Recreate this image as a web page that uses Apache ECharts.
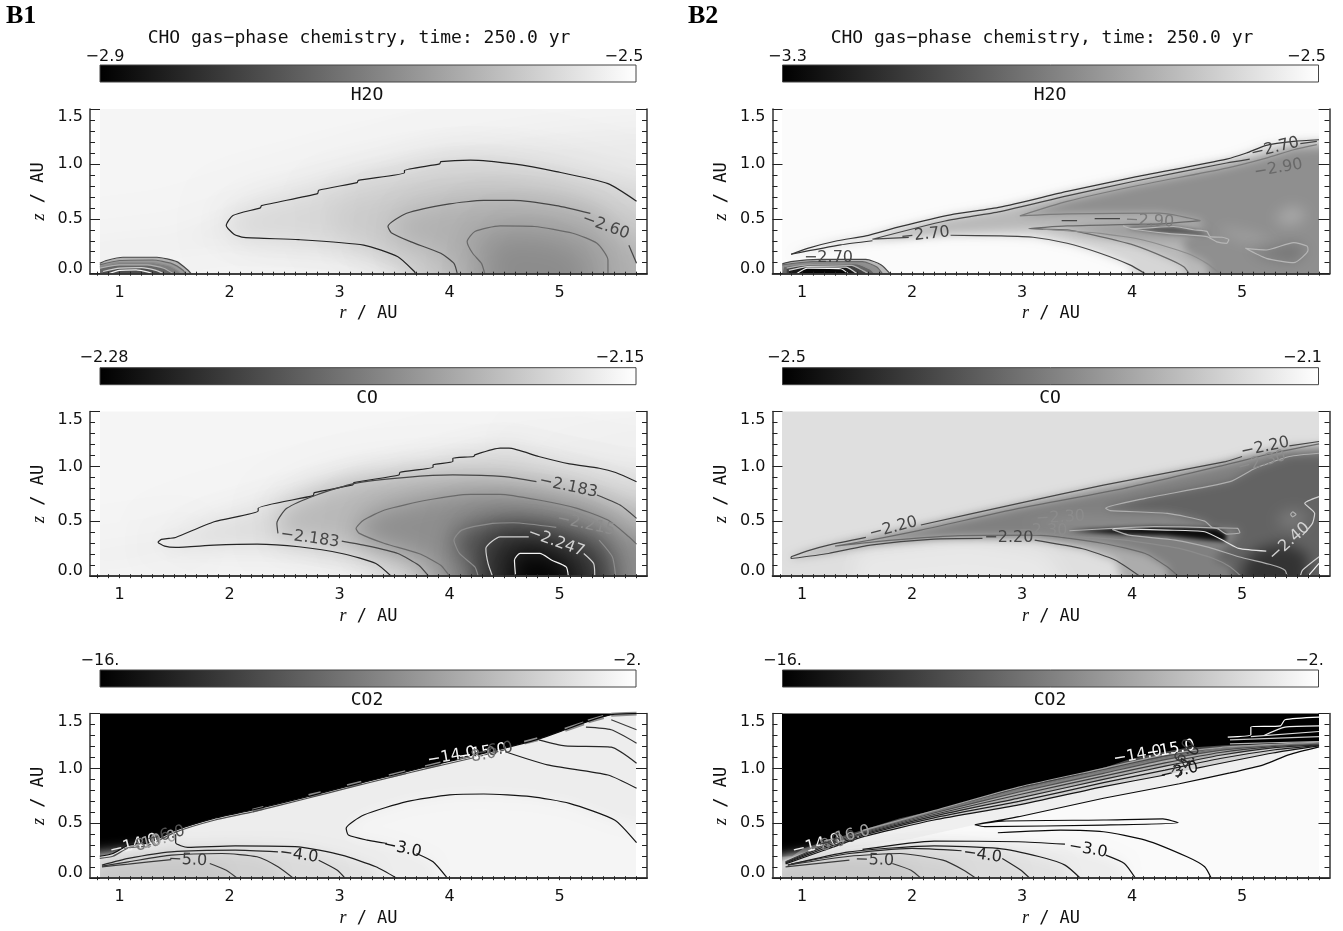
<!DOCTYPE html>
<html>
<head>
<meta charset="utf-8">
<title>CHO gas-phase chemistry</title>
<style>html,body{margin:0;background:#fff}#chart{width:1343px;height:931px}</style>
<script src="https://cdn.jsdelivr.net/npm/echarts@6/dist/echarts.min.js"></script>
</head>
<body>
<div id="chart"></div>
<script>
// axis values
const rLabels = [1, 2, 3, 4, 5];
const rTicks = [0.8,0.9,1,1.1,1.2,1.3,1.4,1.5,1.6,1.7,1.8,1.9,2,2.1,2.2,2.3,2.4,2.5,2.6,2.7,2.8,2.9,3,3.1,3.2,3.3,3.4,3.5,3.6,3.7,3.8,3.9,4,4.1,4.2,4.3,4.4,4.5,4.6,4.7,4.8,4.9,5,5.1,5.2,5.3,5.4,5.5,5.6,5.7];
const species = ['H2O', 'CO', 'CO2'];
const barRangeB1 = [[-2.9, -2.5], [-2.28, -2.15], [-16, -2]];
const barRangeB2 = [[-3.3, -2.5], [-2.5, -2.1], [-16, -2]];
const barTextB1 = [['−2.9', '−2.5'], ['−2.28', '−2.15'], ['−16.', '−2.']];
const barTextB2 = [['−3.3', '−2.5'], ['−2.5', '−2.1'], ['−16.', '−2.']];
const wholeField = [[0.7, -0.1], [5.9, -0.1], [5.9, 1.6], [0.7, 1.6]];

// contours are [level, points], null marks a break where the label sits
const h2oB1Lines = [
  [-2.55, [[5.7,.66],[5.44,.82],[4.97,.93],[4.58,1],[4.19,1.035],[3.92,1.02],[3.91,1],[3.59,.94],[3.59,.92],[3.17,.85],[3.16,.83],[2.81,.76],[2.8,.73],[2.29,.62],[2.28,.6],[2.03,.53],[1.97,.44],[2.04,.36],[2.13,.33],[2.63,.31],[3.22,.26],[3.53,.155],[3.68,.02],[3.69,0]]],
  [-2.6, [[5.7,.095],[5.63,.26],null,[5.28,.55],[4.97,.62],[4.58,.667],[4.31,.667],[4,.636],[3.61,.55],[3.44,.43],[3.47,.374],[3.65,.29],[3.92,.186],[4.04,.094],[4.07,0]]],
  [-2.65, [[5.44,0],[5.44,.125],[5.34,.277],[5.12,.368],[4.77,.43],[4.46,.435],[4.23,.384],[4.16,.292],[4.21,.186],[4.29,.094],[4.32,0]]],
  [-2.6, [[.82,.095],[.88,.12],[1.03,.15],[1.34,.15],[1.52,.11],[1.62,.034],[1.65,0]]],
  [-2.65, [[.82,.08],[1,.12],[1.3,.125],[1.48,.09],[1.58,.03],[1.6,0]]],
  [-2.7, [[.82,.065],[1,.1],[1.3,.1],[1.45,.07],[1.54,.02],[1.55,0]]],
  [-2.75, [[.82,.05],[1,.08],[1.25,.08],[1.4,.05],[1.49,0]]],
  [-2.8, [[.85,.02],[1,.05],[1.2,.055],[1.33,.03],[1.4,0]]],
  [-2.85, [[.9,0],[1,.03],[1.15,.035],[1.26,.015],[1.3,0]]]
];
const h2oB1Labels = [[5.42,.43,'−2.60',-20,-2.6]];
const h2oB1Soft = [
  [-2.53, [[.82,.17],[1.5,.33],[2.1,.53],[3,.8],[3.8,1.03],[4.3,1.13],[5,1.23],[5.7,1.33],[5.7,0],[3.9,0],[3.4,.2],[2.8,.3],[2,.32],[1.7,.28],[1,.16],[.82,.12]]],
  [-2.56, h2oB1Lines[0][1].concat([[5.7,0]])],
  [-2.58, [[5.7,.3],[5.55,.55],[5,.75],[4.4,.84],[3.8,.8],[3,.62],[2.9,.5],[3,.4],[3.3,.28],[3.7,.12],[3.85,0],[5.7,0]]],
  [-2.62, h2oB1Lines[1][1].filter(Boolean).concat([[5.7,0]])],
  [-2.65, h2oB1Lines[2][1]],
  [-2.68, [[5.2,0],[5.2,.15],[4.9,.27],[4.5,.3],[4.35,.2],[4.4,.08],[4.45,0]]]
];
const h2oB1Core = [
  [-2.62, h2oB1Lines[3][1].concat([[.82,0]])],
  [-2.66, h2oB1Lines[4][1].concat([[.82,0]])],
  [-2.7, h2oB1Lines[5][1].concat([[.82,0]])],
  [-2.74, h2oB1Lines[6][1].concat([[.82,0]])],
  [-2.78, h2oB1Lines[7][1].concat([[.85,0]])]
];

const h2oB2Lines = [
  [-2.65, [[.9,.177],[1.05,.231],[1.32,.3],[1.58,.344],[1.89,.429],[2.35,.536],[2.8,.606],[3.41,.749],[4.01,.877],[4.86,1.044],[5.04,1.099],[5.22,1.169],[5.47,1.205],[5.7,1.22]]],
  [-2.65, [[.9,.177],[1.35,.262],[1.64,.3]]],
  [-2.7, [[5.68,1.205],[5.53,1.184],null,[5.07,1.044],[4.86,1.008],[4.01,.84],[3.41,.709],[2.8,.566],[2.3,.48],[1.64,.314],[1.97,.33],null,[2.35,.35],[2.8,.344],[3.1,.332],[3.41,.277],[3.71,.186],[3.98,.08],[4.12,0]]],
  [-2.8, [[4.62,.484],[4.25,.454],[3.89,.447],[3.41,.435],[3.06,.41],[3.41,.399],[3.71,.338],[4.01,.262],[4.32,.14],[4.47,.064],[4.52,0]]],
  [-2.9, [[3.19,.405],[3.71,.368],[4.1,.307],[4.5,.186],[4.68,.094],[4.8,0]]],
  [-2.85, [[5.68,1.175],[5.47,1.129],[5.22,1.053],[4.86,.962],[4.01,.794],[3.41,.658],[2.98,.527],[3.41,.545],[4.25,.551],[4.62,.484]]],
  [-2.7, [[3.36,.484],[3.5,.484]]],
  [-2.7, [[3.66,.502],[3.89,.502]]],
  [-3.02, [[3.92,.435],[4,.41],[4.38,.43],[4.56,.4],[4.68,.385],[4.71,.338],[4.82,.332],[4.88,.31],[4.86,.277],[4.77,.29],[4.68,.338],[4.32,.368],[4.01,.405],[3.92,.435]]],
  [-3.02, [[5.03,.231],[5.22,.216],[5.47,.283],[5.59,.252],[5.6,.216],[5.47,.1],[5.22,.14],[5.03,.231]]],
  [-2.7, [[.82,.09],[.9,.11],[1.15,.13],[1.58,.13],[1.72,.08],[1.8,0]]],
  [-2.8, [[.82,.08],[1.1,.11],[1.55,.11],[1.68,.06],[1.73,0]]],
  [-2.9, [[.84,.065],[1.1,.095],[1.5,.09],[1.62,.04],[1.66,0]]],
  [-3, [[.86,.05],[1.05,.08],[1.45,.075],[1.55,.03],[1.6,0]]],
  [-3.1, [[.88,.03],[1.05,.065],[1.4,.06],[1.5,0]]],
  [-3.2, [[.95,0],[1.05,.05],[1.35,.045],[1.42,0]]]
];
const h2oB2Labels = [
  [2.12,.355,'−2.70',6,-2.7], [5.3,1.144,'−2.70',14,-2.7], [1.24,.14,'−2.70',0,-2.7],
  [4.16,.478,'−2.90',-3,-2.85], [5.33,.96,'−2.90',10,-2.8]
];
const h2oB2Wedge = [
  [-2.63, h2oB2Lines[0][1].concat([[5.7,0],[4.12,0],[3.98,.08],[3.71,.186],[3.41,.277],[3.1,.332],[2.8,.344],[2.35,.35],[1.97,.33],[1.64,.3],[1.35,.262]])],
  [-2.72, [[1.64,.314],[2.3,.48],[2.8,.566],[3.41,.709],[4.01,.84],[4.86,1.008],[5.07,1.044],[5.53,1.184],[5.7,1.205],[5.7,0],[4.52,0],[4.47,.064],[4.32,.14],[4.01,.262],[3.71,.338],[3.41,.399],[3.06,.41],[2.4,.375]]],
  [-2.85, [[2.98,.527],[3.41,.658],[4.01,.794],[4.86,.962],[5.22,1.053],[5.47,1.129],[5.7,1.175],[5.7,0],[4.8,0],[4.68,.094],[4.5,.186],[4.45,.3],[4.65,.42],[4.62,.484],[4.25,.551],[3.41,.545]]]
];
const h2oB2Soft = [
  [-2.87, [[3.2,.405],[3.9,.44],[4.25,.45],[4.62,.43],[4.8,.34],[4.4,.33],[3.7,.368]]],
  [-2.77, [[5.3,.52],[5.45,.62],[5.6,.55],[5.5,.45],[5.35,.45]]],
  [-2.78, [[4.8,.42],[5.1,.36],[5.3,.28],[5.1,.28],[4.85,.36]]],
  [-2.93, [[5.05,.23],[5.22,.22],[5.47,.28],[5.6,.22],[5.47,.1],[5.22,.14]]]
];
const h2oB2Sliver = [
  [-3.04, [[3.95,.43],[4.38,.425],[4.6,.39],[4.7,.35],[4.3,.37],[4,.41]]]
];
const h2oB2Core = [
  [-2.72, h2oB2Lines[10][1].concat([[.82,0]])],
  [-2.85, h2oB2Lines[11][1].concat([[.82,0]])],
  [-2.98, h2oB2Lines[12][1].concat([[.82,0]])],
  [-3.1, h2oB2Lines[13][1].concat([[.86,0]])],
  [-3.22, h2oB2Lines[14][1].concat([[.88,0]])],
  [-3.28, h2oB2Lines[15][1]]
];

const coB1Lines = [
  [-2.167, [[5.7,.86],[5.51,.944],[5.36,.983],[5.09,1.023],[4.81,1.09],[4.54,1.166],[4.46,1.166],[4.23,1.105],[4.22,1.09],[4.03,1.075],[4.03,1.044],[3.85,1.014],[3.85,.992],[3.55,.947],[3.54,.922],[3.13,.852],[3.12,.831],[2.77,.761],[2.76,.734],[2.26,.618],[2.26,.594],[1.86,.496],[1.51,.353],[1.45,.344],[1.38,.335],[1.35,.31],[1.41,.274],[1.51,.262],[1.86,.283],[2.25,.292],[2.63,.268],[3.02,.207],[3.33,.116],[3.47,0]]],
  [-2.183, [[5.7,.527],[5.55,.648],[5.34,.74],null,[4.79,.861],[4.5,.907],[4.03,.922],[3.61,.9],[3.14,.846],[2.79,.74],[2.52,.618],[2.43,.481],[2.44,.39],null,[3.02,.32],[3.22,.283],[3.53,.207],[3.72,.1],[3.81,0]]],
  [-2.199, [[5.7,.292],[5.63,.359],[5.44,.511],[5.16,.618],[4.81,.694],[4.46,.746],[4.19,.746],[3.8,.694],[3.41,.603],[3.22,.511],[3.15,.435],[3.18,.39],[3.41,.298],[3.72,.207],[3.92,.1],[4,0]]],
  [-2.215, [[5.51,0],[5.48,.177],[5.36,.329],null,[4.97,.444],[4.58,.487],[4.39,.481],[4.11,.42],[4.04,.329],[4.09,.207],[4.23,.085],[4.26,0]]],
  [-2.247, [[5.32,0],[5.31,.116],[5.22,.207],null,[4.72,.359],[4.46,.359],[4.33,.253],[4.35,.116],[4.39,0]]],
  [-2.263, [[5.08,0],[5.06,.085],[4.93,.146],[4.82,.207],[4.64,.207],[4.59,.146],[4.6,0]]]
];
const coB1Labels = [
  [5.08,.815,'−2.183',-12,-2.183], [2.73,.345,'−2.183',-8,-2.183],
  [5.24,.47,'−2.215',-12,-2.215], [4.97,.31,'−2.247',-20,-2.247]
];
const coB1Soft = [
  [-2.158, [[.82,.1],[.82,.16],[1.35,.33],[1.6,.4],[1.7,.28],[1,.14]]],
  [-2.157, [[4.5,1.2],[5.7,1.35],[5.7,.8]]],
  [-2.167, coB1Lines[0][1].concat([[5.7,0]])],
  [-2.185, coB1Lines[1][1].filter(Boolean).concat([[5.7,0]])],
  [-2.207, coB1Lines[2][1].concat([[5.7,0]])],
  [-2.237, coB1Lines[3][1].filter(Boolean)],
  [-2.258, coB1Lines[4][1].filter(Boolean)],
  [-2.278, coB1Lines[5][1]]
];

const coB2Lines = [
  [-2.2, [[.9,.177],[1.05,.231],[1.24,.283],[1.58,.353],null,[2.08,.466],[2.97,.664],[3.74,.83],[4.85,1.044],[5,1.09],null,[5.43,1.187],[5.7,1.227]]],
  [-2.2, [[.9,.177],[.9,.161],[1.24,.207],[1.62,.283],[2.2,.338],[2.64,.344],null,[3.115,.329],[3.55,.25],[3.85,.146],[4.07,0]]],
  [-2.25, [[5.7,1.205],[5.28,1.12],[4.85,1.014],[3.93,.8],[2.97,.618],[2.08,.42],[1.62,.329],[1.3,.274],[1.82,.329],[2.39,.368],[3.12,.374],[3.74,.298],[4.12,.207],[4.32,.085],[4.42,0]]],
  [-2.35, [[5.7,1.12],[5.43,1.09],[5.12,.983],[4.89,.861],[4.12,.709],[3.76,.618],[3.8,.597],[4.32,.572],[4.66,.502],[4.73,.444],[4.96,.435],[4.98,.396],[4.86,.383],[4.77,.435],[4.2,.451],[3.82,.435],[3.43,.414]]],
  [-2.3, [[3.35,.365],[3.93,.329],[4.43,.253],[4.74,.161],[4.89,.085],[4.99,0]]],
  [-2.35, [[3.82,.426],[3.97,.374],[4.39,.329],[4.7,.262],[4.97,.177],[5.28,.1],[5.39,.055],[5.41,0]]],
  [-2.42, [[3.83,.432],[4.32,.42],[4.66,.405],[4.85,.314],[4.97,.253],[5.22,.228]]],
  [-2.4, [[5.7,.725],[5.57,.664],[5.66,.572],[5.64,.481],[5.55,.374]]],
  [-2.4, [[5.53,0],[5.55,.055],[5.7,.177]]],
  [-2.45, [[5.7,.116],[5.6,0]]],
  [-2.35, [[5.44,.563],[5.46,.585],[5.49,.563],[5.46,.541],[5.44,.563]]]
];
const coB2Labels = [
  [1.83,.44,'−2.20',15,-2.2], [2.88,.353,'−2.20',0,-2.2], [5.21,1.175,'−2.20',12,-2.2],
  [3.35,.533,'−2.30',3,-2.3], [3.19,.414,'−2.30',0,-2.3], [5.18,1.04,'−2.30',15,-2.3],
  [5.43,.313,'−2.40',42,-2.4]
];
const coB2Light = [
  [-2.135, [[1.5,0],[1.5,.2],[2.5,.3],[3.2,.2],[3.6,0]]]
];
const coB2Wedge = [
  [-2.23, [[.9,.177],[1.05,.231],[1.24,.283],[1.58,.353],[2.08,.466],[2.97,.664],[3.74,.83],[4.85,1.044],[5,1.09],[5.43,1.187],[5.7,1.227],[5.7,0],[4.07,0],[3.85,.146],[3.55,.25],[3.115,.329],[2.64,.344],[2.2,.338],[1.62,.283],[1.24,.207],[.9,.161]]],
  [-2.3, coB2Lines[2][1].concat([[5.7,0]])],
  [-2.345, [[3.76,.618],[4.12,.709],[4.89,.861],[5.12,.983],[5.43,1.09],[5.7,1.12],[5.7,0],[4.99,0],[4.89,.085],[4.74,.161],[4.9,.3],[4.98,.396],[4.96,.435],[4.73,.444],[4.66,.502],[4.32,.572],[3.8,.597]]]
];
const coB2Soft = [
  [-2.27, [[3,.47],[3.4,.52],[4.3,.52],[4.6,.47],[4.3,.46],[3.4,.45]]],
  [-2.31, [[5.3,.5],[5.4,.6],[5.55,.6],[5.6,.5],[5.45,.42]]],
  [-2.42, [[4.99,0],[5,.1],[5.15,.25],[5.4,.3],[5.6,.2],[5.6,0]]]
];
const coB2Sliver = [
  [-2.48, [[3.43,.414],[3.82,.435],[4.2,.451],[4.77,.435],[4.86,.383],[4.85,.314],[4.66,.33],[4.3,.37],[3.9,.38]]]
];

const boundaryCo2B1 = [[.82,.2],[.94,.225],[1.08,.3],[1.25,.317],[1.51,.438],[1.86,.545],[2.21,.621],[2.71,.743],[3.06,.834],[3.49,.94],[3.8,1.017],[4.19,1.108],[4.5,1.184],[4.81,1.266],[5.05,1.352],[5.26,1.428],[5.47,1.489],[5.7,1.5]];
const co2B1Lines = [
  [-2.5, boundaryCo2B1],
  [-6, [[.82,.18],[.94,.2],[1.08,.275],[1.25,.295],[1.51,.42],[1.86,.528],[2.21,.604],[2.71,.728],[3.06,.818],[3.49,.925],[3.8,1],[4.19,1.09],[4.5,1.168]]],
  [-3, [[5.7,.323],[5.5,.53],[5.09,.682],[4.74,.743],[4.31,.767],[4,.758],[3.61,.697],[3.22,.575],[3.06,.454],[3.08,.393],[3.25,.347],[3.43,.317],null,[3.7,.225],[3.85,.149],[3.98,0]]],
  [-3.5, [[4.5,1.154],[4.89,1.032],[5.44,.94],[5.7,.819]]],
  [-4, [[4.81,1.26],[5.05,1.205],[5.47,1.193],[5.7,1.047]]],
  [-4.5, [[5.24,1.376],[5.47,1.352],[5.7,1.23]]],
  [-5, [[5.47,1.443],[5.7,1.352]]],
  [-3.5, [[1.51,.4],[1.51,.323],[1.62,.28],[2.05,.295],[2.63,.286],[3.02,.21],[3.33,.104],[3.52,0]]],
  [-4, [[.84,.119],[1.08,.18],[1.47,.24],[2.05,.256],[2.44,.24],null,[2.81,.164],[2.98,.073],[3.05,0]]],
  [-4.5, [[.84,.11],[1.08,.149],[1.47,.21],[1.93,.225],[2.25,.195],[2.44,.104],[2.58,0]]],
  [-5, [[.84,.104],[1.08,.128],[1.47,.17],null,[1.82,.134],[1.97,.073],[2.07,0]]]
];
const co2B1Steps = [[[2.21,.615],[2.31,.64]],[[2.72,.75],[2.83,.775]],[[3.07,.838],[3.2,.87]],[[3.45,.93],[3.6,.965]],[[3.78,1.012],[3.92,1.045]],[[4.68,1.235],[4.8,1.265]],[[5.05,1.352],[5.22,1.41]],[[5.26,1.428],[5.4,1.468]],[[5.47,1.489],[5.7,1.5]]];
const co2B1Labels = [
  [3.57,.27,'−3.0',-12,-3], [2.63,.21,'−4.0',-8,-4], [1.62,.164,'−5.0',-3,-5],
  [1.13,.3,'−14.0',14,-14], [1.2,.3,'−8.0',14,-8], [1.3,.33,'−10.0',14,-10], [1.42,.39,'−6.0',14,-6],
  [4.02,1.11,'−14.0',10,-14], [4.3,1.14,'−15.0',10,-15], [4.4,1.16,'−6.0',10,-6], [4.25,1.11,'−8.0',10,-8]
];
const co2B1Under = [[-3, boundaryCo2B1.concat([[5.7,0],[.82,0]])]];
const co2B1Soft = [
  [-2.55, co2B1Lines[2][1].filter(Boolean).concat([[5.7,0]])],
  [-3.6, [[.82,.15],[1.2,.25]].concat(co2B1Lines[7][1].slice(1)).concat([[.82,0]])],
  [-4, co2B1Lines[8][1].filter(Boolean).concat([[.82,0]])],
  [-4.5, co2B1Lines[9][1].concat([[.82,0]])],
  [-5, co2B1Lines[10][1].filter(Boolean).concat([[.82,0]])]
];

const boundaryCo2B2 = [[.82,.195],[.91,.2],[1.01,.271],[1.2,.332],[1.55,.438],[1.89,.545],[2.22,.621],[2.72,.758],[3.08,.85],[3.49,.94],[3.78,1.017],[3.97,1.08],[4.24,1.14],[4.5,1.187],[4.85,1.21],[5.28,1.224],[5.7,1.224]];
const co2B2Lines = [
  [-2.5, [[5.7,1.196],[5.43,1.126],[5.2,1.035],[4.89,.959],[4.43,.86],[3.74,.728],[2.97,.56],[2.57,.487],[2.82,.52],[3.74,.53],[4.28,.54],[4.42,.505],[3.74,.484],[2.66,.47],[2.57,.487]]],
  [-2.5, [[2.78,.414],[3.35,.438],[3.74,.423],[4.12,.347],[4.5,.195],[4.66,.104],[4.72,0]]],
  [-3, [[.85,.13],[1.2,.255],[1.55,.377],[2.2,.53],[2.97,.667],[3.74,.834],[4.3,.94],null,[4.58,1],[5.28,1.14],[5.7,1.205]]],
  [-3.5, [[.85,.14],[1.2,.27],[1.55,.39],[2.2,.55],[2.97,.7],[3.74,.87],[4.3,.985],[4.8,1.09],[5.3,1.17],[5.7,1.21]]],
  [-4, [[.85,.145],[1.2,.285],[1.55,.4],[2.2,.565],[2.97,.73],[3.74,.9],[4.3,1.02],[4.8,1.12],[5.3,1.19],[5.7,1.215]]],
  [-5, [[.85,.15],[1.2,.3],[1.55,.41],[2.2,.58],[2.97,.76],[3.74,.93],[4.3,1.05],[4.8,1.145],[5.3,1.2],[5.7,1.22]]],
  [-6, [[1.55,.42],[2.2,.595],[2.97,.785],[3.74,.955],[4.3,1.08],[4.8,1.165],[5.3,1.21],[5.7,1.225]]],
  [-8, [[1.55,.43],[2.2,.605],[2.97,.81],[3.74,.98],[4.3,1.1],[4.8,1.18],[5.3,1.215],[5.7,1.23]]],
  [-10, [[1.55,.435],[2.2,.615],[2.97,.83],[3.74,1],[4.3,1.125],[4.8,1.19],[5.3,1.22],[5.7,1.24]]],
  [-15, [[4.87,1.285],[5.08,1.306],[5.08,1.376],[5.35,1.388],[5.39,1.443],[5.7,1.467]]],
  [-14, [[5.7,1.388],[5.39,1.376],[5.2,1.3]]],
  [-13, [[5.7,1.336],[5.08,1.29]]],
  [-12, [[5.7,1.29],[4.89,1.26]]],
  [-11, [[5.7,1.245],[4.89,1.224]]],
  [-3, [[1.55,.262],[2.2,.338],[2.97,.332],[3.39,.31],null,[3.76,.21],[3.93,.134],[4.03,0]]],
  [-3.5, [[.87,.12],[1.43,.24],[2.2,.295],[2.78,.271],[3.16,.195],[3.39,.119],[3.53,0]]],
  [-4, [[.9,.128],[1.43,.225],[2,.271],[2.45,.25],null,[2.82,.18],[2.99,.073],[3.07,0]]],
  [-4.5, [[.87,.119],[1.43,.2],[1.89,.225],[2.28,.164],[2.47,.073],[2.58,0]]],
  [-5, [[.85,.104],[1.43,.164],null,[1.82,.134],[1.99,.073],[2.08,0]]]
];
const co2B2Labels = [
  [3.6,.262,'−3.0',-10,-3], [2.64,.21,'−4.0',-8,-4], [1.66,.164,'−5.0',-2,-5], [4.43,.97,'−3.0',14,-3],
  [1.13,.3,'−14.0',14,-14], [1.22,.3,'−8.0',14,-8], [1.32,.34,'−6.0',14,-5], [1.4,.38,'−16.0',14,-10],
  [4.05,1.12,'−14.0',10,-14], [4.35,1.17,'−15.0',10,-15], [4.45,1.1,'−6.0',60,-5], [4.5,1.05,'−4.0',60,-4]
];
const co2B2Under = [
  [-12, boundaryCo2B2.concat([[5.7,0],[.82,0]])],
  [-9, [[1.55,.43],[2.2,.605],[2.97,.81],[3.74,.98],[4.3,1.1],[4.8,1.18],[5.3,1.215],[5.7,1.23],[5.7,0],[.82,0],[.82,.16]]],
  [-6.5, [[.85,.155],[1.2,.31],[1.55,.42],[2.2,.595],[2.97,.785],[3.74,.955],[4.3,1.08],[4.8,1.165],[5.3,1.21],[5.7,1.225],[5.7,0],[.82,0]]],
  [-4.5, [[.85,.148],[1.2,.29],[1.55,.4],[2.2,.565],[2.97,.73],[3.74,.9],[4.3,1.02],[4.8,1.12],[5.3,1.19],[5.7,1.215],[5.7,0],[.82,0]]],
  [-2.9, co2B2Lines[2][1].filter(Boolean).concat([[5.7,0],[.82,0]])],
  [-2.25, co2B2Lines[0][1].slice(0, 8).concat([[2,.36],[1.4,.27],[1,.16],[.82,.11],[.82,0],[5.7,0]])]
];
const co2B2Soft = [
  [-3, co2B2Lines[14][1].filter(Boolean).concat([[.82,0],[.82,.1]])],
  [-3.6, co2B2Lines[15][1].concat([[.82,0]])],
  [-4, co2B2Lines[16][1].filter(Boolean).concat([[.82,0]])],
  [-4.5, co2B2Lines[17][1].concat([[.82,0]])],
  [-5, co2B2Lines[18][1].filter(Boolean).concat([[.82,0]])]
];

// one entry per panel: [bar range, background level, lines, labels, layers as [fills, blur]]
const panels = [
  [[barRangeB1[0], -2.516, h2oB1Lines, h2oB1Labels, [[h2oB1Soft, 24], [h2oB1Core, 1]]],
   [barRangeB1[1], -2.155, coB1Lines, coB1Labels, [[coB1Soft, 22]]],
   [barRangeB1[2], -16, co2B1Lines, co2B1Labels, [[co2B1Under, 1], [co2B1Soft, 14]]]],
  [[barRangeB2[0], -2.512, h2oB2Lines, h2oB2Labels, [[h2oB2Wedge, 8], [h2oB2Soft, 14], [h2oB2Sliver, 4], [h2oB2Core, 1]]],
   [barRangeB2[1], -2.15, coB2Lines, coB2Labels, [[coB2Light, 20], [coB2Wedge, 8], [coB2Soft, 14], [coB2Sliver, 4]]],
   [barRangeB2[2], -16, co2B2Lines, co2B2Labels, [[co2B2Under, 1], [co2B2Soft, 14]]]]
];
const barText = [barTextB1, barTextB2];
const extraSteps = [[], [], co2B1Steps];

// layout
const frameLeft = [90, 772.5], imgLeft = [100, 782.5];
const frameTop = [109, 411.5, 713.5], frameH = 164.7;
const barTop = [65, 367.7, 670], barH = 17;
const barLabelX = [[105, 624], [104, 620], [100, 627]];
const nameY = [95, 398, 700.5], barLabelY = [57, 358, 660.5];
const SANS = 'DejaVu Sans', MONO = 'DejaVu Sans Mono';
const OFFSCREEN = 3000;

function grey(level, range) {
  const t = Math.min(1, Math.max(0, (level - range[0]) / (range[1] - range[0])));
  const g = Math.round(t * 255);
  return 'rgb(' + g + ',' + g + ',' + g + ')';
}
// contour lines go from black at the top of the scale to white at the bottom
function lineGrey(level, range) {
  const t = (level - range[0]) / (range[1] - range[0]);
  const g = Math.round(Math.min(255, Math.max(0, 255 * (1 - t) * 1.1)));
  return 'rgb(' + g + ',' + g + ',' + g + ')';
}
function segments(pts) {
  const out = [[]];
  pts.forEach(p => { if (p) out[out.length - 1].push(p); else out.push([]); });
  return out;
}
// soft fills are pushed past the image edge so the blur does not fade there
function pastEdge(q) {
  return [q[0] >= 5.69 ? 6.4 : q[0] <= 0.83 ? 0.2 : q[0], q[1] <= 0 ? -0.5 : q[1]];
}

const grids = [], xAxes = [], yAxes = [], series = [], titles = [];
titles.push({ text: 'B1', left: 6, top: 16, textVerticalAlign: 'middle', padding: 0, textStyle: { fontFamily: 'Liberation Serif', fontWeight: 'bold', fontSize: 26, color: '#000' } });
titles.push({ text: 'B2', left: 688, top: 16, textVerticalAlign: 'middle', padding: 0, textStyle: { fontFamily: 'Liberation Serif', fontWeight: 'bold', fontSize: 26, color: '#000' } });

function addText(text, x, y, font, size) {
  titles.push({ text, left: x, top: y, textAlign: 'center', textVerticalAlign: 'middle', padding: 0, textStyle: { fontFamily: font, fontSize: size, fontWeight: 'normal', color: '#111' } });
}

[0, 1].forEach(col => {
  addText('CHO gas−phase chemistry, time: 250.0 yr', col ? 1042 : 359, 38, MONO, 18);
  [0, 1, 2].forEach(row => {
    const [range, bg, lines, labels, layers] = panels[col][row];
    const imgW = 536, frameW = 557;

    // colour bar
    const gb = grids.length;
    grids.push({ left: imgLeft[col], top: barTop[row], width: imgW, height: barH });
    xAxes.push({ gridIndex: gb, type: 'value', min: range[0], max: range[1], show: false });
    yAxes.push({ gridIndex: gb, type: 'value', min: 0, max: 1, show: false });
    series.push({
      type: 'custom', xAxisIndex: xAxes.length - 1, yAxisIndex: yAxes.length - 1, silent: true, data: [[0]],
      renderItem: (p, api) => {
        const a = api.coord([range[0], 1]), b = api.coord([range[1], 0]);
        return { type: 'rect', shape: { x: a[0], y: a[1], width: b[0] - a[0], height: b[1] - a[1] },
          style: { stroke: '#444', lineWidth: 1, fill: new echarts.graphic.LinearGradient(0, 0, 1, 0, [{ offset: 0, color: '#000' }, { offset: 1, color: '#fff' }]) } };
      }
    });
    addText(barText[col][row][0], barLabelX[row][0] + (col ? 682.5 : 0), barLabelY[row], SANS, 16);
    addText(barText[col][row][1], barLabelX[row][1] + (col ? 682.5 : 0), barLabelY[row], SANS, 16);
    addText(species[row], col ? 1050 : 367, nameY[row], MONO, 18);

    // image area
    const gi = grids.length;
    grids.push({ left: imgLeft[col], top: frameTop[row], width: imgW, height: frameH });
    xAxes.push({ gridIndex: gi, type: 'value', min: 0.822, max: 5.695, show: false });
    yAxes.push({ gridIndex: gi, type: 'value', min: 0, max: 1.5, show: false });
    const xi = xAxes.length - 1, yi = yAxes.length - 1;

    const fills = [{ pts: wholeField, level: bg, blur: 0 }];
    layers.forEach(([list, blur]) => {
      list.forEach((f, i) => {
        const prev = i ? list[i - 1][0] : bg;
        if (blur >= 20) fills.push({ pts: f[1], level: (prev + f[0]) / 2, blur: blur * 2 });
        fills.push({ pts: f[1], level: f[0], blur });
      });
    });
    series.push({
      type: 'custom', xAxisIndex: xi, yAxisIndex: yi, silent: true, clip: true, z: 2,
      data: fills.map((f, i) => [i]),
      renderItem: (p, api) => {
        const f = fills[p.dataIndex], c = grey(f.level, range);
        if (f.blur > 3) {
          // only the shadow lands on the image, that gives a blurred patch without a hard edge
          const pts = f.pts.map(q => { const s = api.coord(pastEdge(q)); return [s[0] - OFFSCREEN, s[1]]; });
          return { type: 'polygon', shape: { points: pts },
            style: { fill: c, shadowColor: c, shadowBlur: f.blur, shadowOffsetX: OFFSCREEN } };
        }
        return { type: 'polygon', shape: { points: f.pts.map(q => api.coord(q)) }, style: { fill: c } };
      }
    });
    extraSteps[col ? 0 : row].forEach(seg => {
      series.push({ type: 'line', xAxisIndex: xi, yAxisIndex: yi, silent: true, z: 3, showSymbol: false, data: seg,
        lineStyle: { color: '#8c8c8c', width: 4 } });
    });
    lines.forEach(([level, pts]) => {
      segments(pts).forEach(seg => {
        series.push({ type: 'line', xAxisIndex: xi, yAxisIndex: yi, silent: true, z: 4, showSymbol: false, smooth: 0.2, clip: true, data: seg,
          lineStyle: { color: lineGrey(level, range), width: 1.2 } });
      });
    });
    series.push({
      type: 'custom', xAxisIndex: xi, yAxisIndex: yi, silent: true, z: 5, data: labels.map((l, i) => [i]),
      renderItem: (p, api) => {
        const l = labels[p.dataIndex], c = api.coord([l[0], l[1]]);
        return { type: 'text', x: c[0], y: c[1], rotation: l[3] * Math.PI / 180,
          style: { text: l[2], fill: lineGrey(l[4], range), font: '16px ' + SANS, align: 'center', verticalAlign: 'middle' } };
      }
    });

    // frame with ticks
    const gf = grids.length;
    grids.push({ left: frameLeft[col], top: frameTop[row], width: frameW, height: frameH });
    const rMin = 1 - 29.6 / 110, rMax = 1 + 527.4 / 110;
    const edge = { show: true, lineStyle: { color: '#333', width: 1.5 } };
    xAxes.push({
      gridIndex: gf, type: 'value', position: 'bottom', min: rMin, max: rMax, z: 6, splitLine: { show: false }, axisLine: edge,
      axisTick: { show: true, inside: true, length: 2, customValues: rTicks, lineStyle: { color: '#222' } },
      axisLabel: { customValues: rLabels, margin: 11, fontFamily: SANS, fontSize: 16, color: '#111' },
      name: '{i|r} / AU', nameLocation: 'middle', nameGap: 31,
      nameTextStyle: { fontFamily: MONO, fontSize: 17, color: '#111', rich: { i: { fontFamily: 'Liberation Serif', fontStyle: 'italic', fontSize: 18, color: '#111' } } }
    });
    xAxes.push({
      gridIndex: gf, type: 'value', position: 'top', min: rMin, max: rMax, z: 6, splitLine: { show: false }, axisLine: edge,
      axisTick: { show: true, inside: true, length: 2, customValues: rTicks, lineStyle: { color: '#222' } },
      axisLabel: { show: false }
    });
    yAxes.push({
      gridIndex: gf, type: 'value', position: 'left', min: 0, max: 1.5, interval: 0.5, z: 6, splitLine: { show: false }, axisLine: edge,
      axisTick: { show: true, inside: true, length: 10, lineStyle: { color: '#222' } },
      minorTick: { show: true, splitNumber: 5, length: 5, lineStyle: { color: '#222' } },
      axisLabel: {
        margin: 7, fontFamily: SANS, fontSize: 16, color: '#111',
        formatter: v => (v === 0 ? '{low|0.0}' : v.toFixed(1)),
        rich: { low: { fontFamily: SANS, fontSize: 16, color: '#111', lineHeight: 10 } },
        verticalAlignMinLabel: 'bottom', verticalAlignMaxLabel: 'top'
      },
      name: '{i|z} / AU', nameLocation: 'middle', nameGap: 42,
      nameTextStyle: { fontFamily: MONO, fontSize: 17, color: '#111', rich: { i: { fontFamily: 'Liberation Serif', fontStyle: 'italic', fontSize: 18, color: '#111' } } }
    });
    yAxes.push({
      gridIndex: gf, type: 'value', position: 'right', min: 0, max: 1.5, interval: 0.5, z: 6, splitLine: { show: false }, axisLine: edge,
      axisTick: { show: true, inside: true, length: 11, lineStyle: { color: '#222' } },
      minorTick: { show: true, splitNumber: 5, length: 5, lineStyle: { color: '#222' } },
      axisLabel: { show: false }
    });
  });
});

const myChart = echarts.init(document.getElementById('chart'), null, { renderer: 'canvas' });
myChart.setOption({
  animation: false,
  backgroundColor: '#fff',
  title: titles,
  grid: grids,
  xAxis: xAxes,
  yAxis: yAxes,
  series: series
});
</script>
</body>
</html>
